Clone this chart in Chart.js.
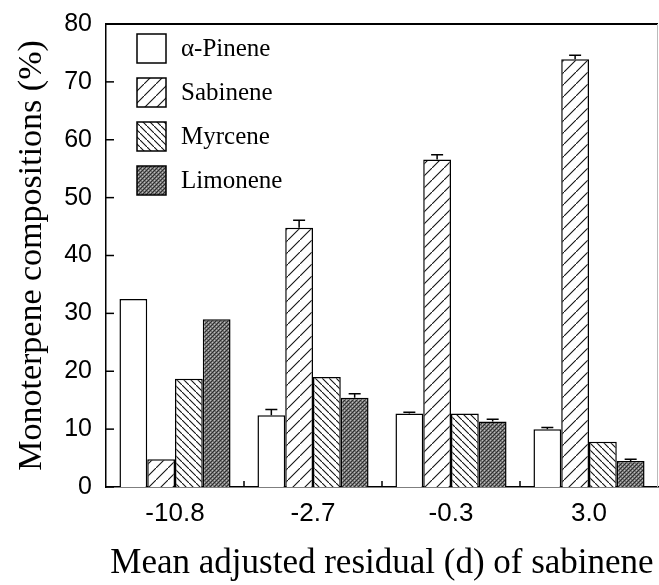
<!DOCTYPE html>
<html>
<head>
<meta charset="utf-8">
<script src="https://cdn.jsdelivr.net/npm/chart.js@4/dist/chart.umd.min.js"></script>
<style>
  html, body { margin: 0; padding: 0; background: #fff; }
  #wrap { width: 659px; height: 585px; }
</style>
</head>
<body>
<div id="wrap"><canvas id="chart"></canvas></div>
<script>
// values
var categories = ["-10.8", "-2.7", "-0.3", "3.0"];
var seriesNames = ["\u03b1-Pinene", "Sabinene", "Myrcene", "Limonene"];
var pinene = [32.5, 12.4, 12.7, 10.0];
var sabinene = [4.8, 44.8, 56.6, 73.9];
var myrcene = [18.7, 19.0, 12.7, 7.8];
var limonene = [29.0, 15.4, 11.3, 4.5];
// upper error (SE), null = none drawn
var pineneErr = [null, 1.0, 0.2, 0.3];
var sabineneErr = [null, 1.3, 0.8, 0.7];
var myrceneErr = [null, null, null, null];
var limoneneErr = [null, 0.7, 0.4, 0.3];
var yTicks = [0, 10, 20, 30, 40, 50, 60, 70, 80];

var serif = "'Liberation Serif', 'Times New Roman', serif";
var sans = "'Liberation Sans', Arial, sans-serif";

function makePattern(size, drawFn) {
  var c = document.createElement("canvas");
  c.width = size;
  c.height = size;
  var g = c.getContext("2d");
  g.fillStyle = "#fff";
  g.fillRect(0, 0, size, size);
  drawFn(g, size);
  return g.createPattern(c, "repeat");
}

var ctx = document.getElementById("chart").getContext("2d");

// "/" wide hatch
var slashPattern = makePattern(12, function (g, s) {
  g.strokeStyle = "#111";
  g.lineWidth = 1.1;
  g.beginPath();
  g.moveTo(-1, s + 1);
  g.lineTo(s + 1, -1);
  g.stroke();
});

// "\" dense hatch
var backPattern = makePattern(7, function (g, s) {
  g.strokeStyle = "#111";
  g.lineWidth = 1.1;
  g.beginPath();
  g.moveTo(-1, -1);
  g.lineTo(s + 1, s + 1);
  g.stroke();
});

// dark dithered grey
var dotPattern = makePattern(4, function (g, s) {
  g.fillStyle = "#747474";
  g.fillRect(0, 0, s, s);
  g.fillStyle = "#2e2e2e";
  g.fillRect(0, 0, 1, 1);
  g.fillRect(2, 2, 1, 1);
  g.fillRect(1, 3, 1, 1);
  g.fillRect(3, 1, 1, 1);
  g.fillStyle = "#bdbdbd";
  g.fillRect(2, 0, 1, 1);
  g.fillRect(0, 2, 1, 1);
});

function makeSet(i, data, errs, fill) {
  return {
    label: seriesNames[i],
    data: data,
    errs: errs,
    backgroundColor: fill,
    borderColor: "#000",
    borderWidth: 1.5,
    borderSkipped: "bottom",
    categoryPercentage: 0.805,
    barPercentage: 1.0
  };
}

var errorBars = {
  id: "errorBars",
  afterDatasetsDraw: function (chart) {
    var g = chart.ctx;
    var y = chart.scales.y;
    g.save();
    g.strokeStyle = "#000";
    g.lineWidth = 1.5;
    chart.data.datasets.forEach(function (ds, di) {
      var meta = chart.getDatasetMeta(di);
      meta.data.forEach(function (bar, i) {
        var e = ds.errs[i];
        if (e == null) return;
        var top = y.getPixelForValue(ds.data[i] + e);
        g.beginPath();
        g.moveTo(bar.x, bar.y);
        g.lineTo(bar.x, top);
        g.moveTo(bar.x - 6, top);
        g.lineTo(bar.x + 6, top);
        g.stroke();
      });
    });
    g.restore();
  }
};

var frameAndTicks = {
  id: "frameAndTicks",
  afterDraw: function (chart) {
    var g = chart.ctx;
    var a = chart.chartArea;
    var x = chart.scales.x;
    var y = chart.scales.y;
    g.save();
    g.strokeStyle = "#000";
    g.lineWidth = 2;
    // top frame
    g.beginPath();
    g.moveTo(a.left, a.top);
    g.lineTo(a.right, a.top);
    g.stroke();
    // faint right frame
    g.strokeStyle = "#bbb";
    g.lineWidth = 1;
    g.beginPath();
    g.moveTo(a.right - 0.5, a.top);
    g.lineTo(a.right - 0.5, a.bottom);
    g.stroke();
    // inward y ticks
    g.strokeStyle = "#000";
    g.lineWidth = 1.5;
    yTicks.forEach(function (v) {
      var py = y.getPixelForValue(v);
      g.beginPath();
      g.moveTo(a.left, py);
      g.lineTo(a.left + 8, py);
      g.stroke();
    });
    // inward x ticks between groups
    for (var i = 0; i < categories.length - 1; i++) {
      var px = (x.getPixelForValue(i) + x.getPixelForValue(i + 1)) / 2;
      g.beginPath();
      g.moveTo(px, a.bottom);
      g.lineTo(px, a.bottom - 6);
      g.stroke();
    }
    // legend inside the plot
    var bx = a.left + 31;
    var by = a.top + 10;
    chart.data.datasets.forEach(function (ds, di) {
      var top = by + di * 44;
      g.fillStyle = ds.backgroundColor;
      g.fillRect(bx, top, 29, 29);
      g.strokeStyle = "#000";
      g.lineWidth = 1.5;
      g.strokeRect(bx, top, 29, 29);
      g.fillStyle = "#000";
      g.font = "25px " + serif;
      g.textBaseline = "middle";
      g.textAlign = "left";
      g.fillText(ds.label, bx + 44, top + 15);
    });
    g.restore();
  }
};

var chart = new Chart(ctx, {
  type: "bar",
  data: {
    labels: categories,
    datasets: [
      makeSet(0, pinene, pineneErr, "#fff"),
      makeSet(1, sabinene, sabineneErr, slashPattern),
      makeSet(2, myrcene, myrceneErr, backPattern),
      makeSet(3, limonene, limoneneErr, dotPattern)
    ]
  },
  options: {
    responsive: true,
    maintainAspectRatio: false,
    animation: false,
    layout: { padding: { top: 24, right: 1, left: 0, bottom: 0 } },
    plugins: {
      legend: { display: false },
      tooltip: { enabled: false }
    },
    scales: {
      x: {
        grid: { display: false, drawTicks: false },
        border: { display: true, color: "#000", width: 1.5 },
        ticks: { color: "#000", padding: 11, font: { family: sans, size: 26 } },
        title: {
          display: true,
          text: "Mean adjusted residual (d) of sabinene",
          color: "#000",
          font: { family: serif, size: 35 },
          padding: { top: 0, bottom: 0 }
        },
        afterFit: function (scale) { scale.height = 98; }
      },
      y: {
        min: 0,
        max: 80,
        grid: { display: false, drawTicks: false },
        border: { display: true, color: "#000", width: 1.5 },
        ticks: {
          stepSize: 10,
          color: "#000",
          padding: 14,
          font: { family: sans, size: 25 }
        },
        title: {
          display: true,
          text: "Monoterpene compositions (%)",
          color: "#000",
          font: { family: serif, size: 34 },
          padding: { top: 12, bottom: 0 }
        },
        afterFit: function (scale) {
          scale.width = 106;
          scale.paddingTop = 0;
        }
      }
    }
  },
  plugins: [errorBars, frameAndTicks]
});
</script>
</body>
</html>
